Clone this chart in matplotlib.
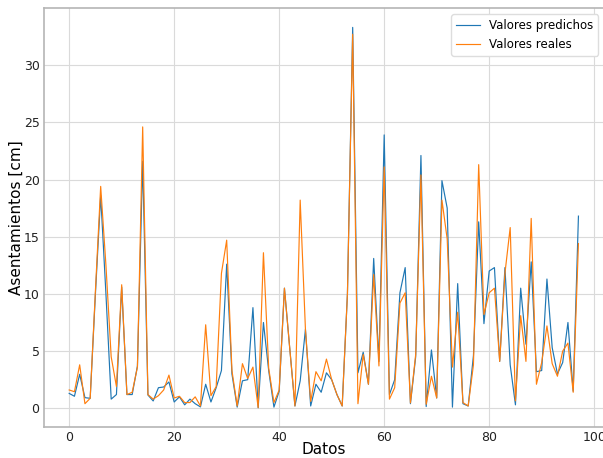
import matplotlib
matplotlib.use("Agg")
import matplotlib.pyplot as plt
import numpy as np

predichos = [1.3, 1.05, 2.97, 0.93, 0.87, 10.0, 18.6, 10.0, 0.8, 1.2,
             10.6, 1.2, 1.2, 3.7, 21.6, 1.16, 0.64, 1.8, 1.86, 2.3,
             0.55, 1.0, 0.3, 0.8, 0.4, 0.12, 2.1, 0.55, 1.8, 3.3,
             12.6, 3.0, 0.1, 2.4, 2.5, 8.8, 0.05, 7.5, 3.3, 0.1,
             1.5, 10.5, 5.3, 0.2, 2.4, 6.9, 0.2, 2.1, 1.4, 3.1,
             2.5, 1.2, 0.2, 10.0, 33.3, 3.1, 4.9, 2.1, 13.1, 4.1,
             23.9, 1.2, 2.5, 10.1, 12.3, 0.4, 4.5, 22.1, 0.15, 5.1,
             0.9, 19.9, 17.5, 0.1, 10.9, 0.4, 0.2, 4.6, 16.3, 7.4,
             12.0, 12.3, 4.1, 12.3, 3.8, 0.3, 10.5, 5.6, 12.8, 3.2,
             3.3, 11.3, 5.3, 3.0, 4.0, 7.5, 1.5, 16.8]

reales = [1.6, 1.45, 3.8, 0.4, 0.87, 10.3, 19.4, 12.5, 4.5, 1.9,
          10.8, 1.2, 1.4, 3.6, 24.6, 1.2, 0.8, 1.1, 1.6, 2.9,
          0.9, 1.05, 0.5, 0.5, 1.0, 0.2, 7.3, 1.1, 1.9, 11.8,
          14.7, 3.3, 0.2, 3.9, 2.6, 3.6, 0.05, 13.6, 3.5, 0.5,
          1.6, 10.5, 5.3, 0.2, 18.2, 6.9, 0.6, 3.2, 2.4, 4.3,
          2.5, 1.2, 0.2, 10.0, 32.7, 0.4, 4.7, 2.1, 11.7, 3.7,
          21.1, 0.8, 1.8, 9.2, 10.1, 0.47, 4.7, 20.4, 0.35, 2.8,
          0.9, 18.2, 14.8, 3.6, 8.4, 0.5, 0.2, 3.8, 21.3, 8.2,
          10.1, 10.5, 4.1, 11.8, 15.8, 0.65, 8.1, 4.1, 16.6, 2.1,
          4.0, 7.2, 3.9, 2.8, 5.0, 5.7, 1.4, 14.4]

datos = np.arange(len(predichos))

fig = plt.figure(figsize=(6.03, 4.58), dpi=100)
ax = fig.add_axes([0.0725, 0.0683, 0.929, 0.9134])
ax.plot(datos, predichos, color="#1f77b4", lw=0.85, label="Valores predichos")
ax.plot(datos, reales, color="#ff7f0e", lw=0.85, label="Valores reales")
ax.grid(True, color="#dadada", lw=0.8)
ax.set_axisbelow(True)
for s in ax.spines.values():
    s.set_color("#b5b5b5")
    s.set_linewidth(1.2)
ax.tick_params(labelsize=9, length=0, pad=3, labelcolor="#222222")
ax.set_xlabel("Datos", fontsize=11, labelpad=-1)
ax.set_ylabel("Asentamientos [cm]", fontsize=11, labelpad=0)
ax.legend(loc="upper right", fontsize=8.5, framealpha=1, edgecolor="#dddddd")
fig.savefig("out.png", dpi=100)
